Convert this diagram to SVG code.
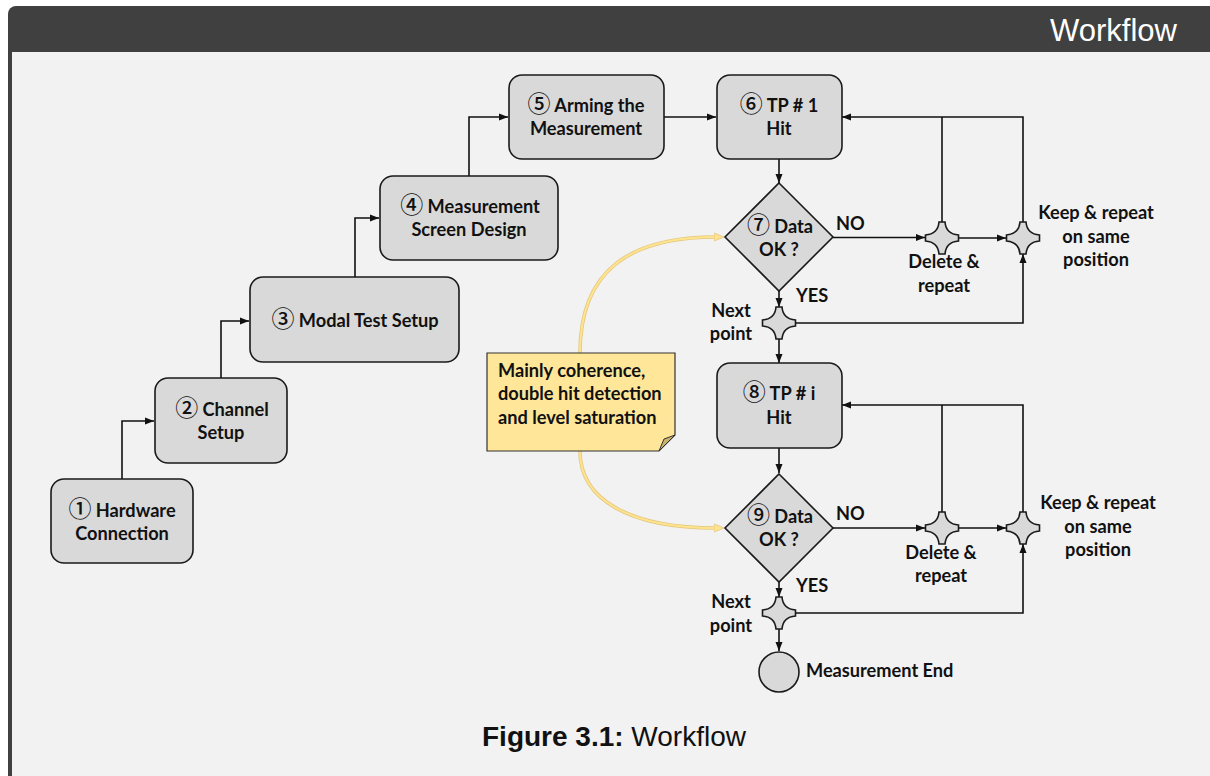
<svg xmlns="http://www.w3.org/2000/svg" width="1210" height="776" viewBox="0 0 1210 776">
  <defs>
    <marker id="arrow" markerUnits="userSpaceOnUse" markerWidth="10" markerHeight="8" refX="9" refY="4" orient="auto">
      <path d="M0,0.5 L9,4 L0,7.5 Z" fill="#111"/>
    </marker>
    <marker id="arrowNote" markerUnits="userSpaceOnUse" markerWidth="12" markerHeight="10" refX="10" refY="5" orient="auto">
      <path d="M0,1 L10,5 L0,9 Z" fill="#ffe38f" stroke="#e2c77c" stroke-width="0.8"/>
    </marker>
    <!-- four-point junction star, centred on 0,0 -->
    <path id="star" d="M-3,-16 L3,-16 Q4,-4 16.5,-3 L16.5,3 Q4,4 3,16 L-3,16 Q-4,4 -16.5,3 L-16.5,-3 Q-4,-4 -3,-16 Z"/>
    <style>
      .box { fill: #d9d9d9; stroke: #1a1a1a; stroke-width: 1.6; }
      .lbl { font-family: Lato, "Liberation Sans", sans-serif; font-weight: bold; font-size: 18.2px; fill: #111; }
      .num { font-family: "Noto Sans CJK SC", "DejaVu Sans", sans-serif; font-weight: 500; font-size: 23px; }
      .mid { text-anchor: middle; }
      .wire { fill: none; stroke: #111; stroke-width: 1.6; }
      .a { marker-end: url(#arrow); }
      .link-edge { fill: none; stroke: #e2c77c; stroke-width: 3.6; }
      .link-core { fill: none; stroke: #ffe38f; stroke-width: 2; }
      .link-tip { fill: none; stroke: none; marker-end: url(#arrowNote); }
    </style>
  </defs>

  <!-- page frame -->
  <rect x="0" y="0" width="1210" height="776" fill="#ffffff"/>
  <rect x="8" y="6" width="1220" height="790" rx="8" fill="#404040"/>
  <rect x="12" y="52" width="1210" height="730" fill="#f2f2f2"/>
  <text x="1177" y="41" text-anchor="end" font-family="'Liberation Sans', sans-serif" font-size="31" fill="#ffffff">Workflow</text>

  <!-- connectors -->
  <g id="connectors">
    <path class="wire a" d="M122,479 V421 H154"/>
    <path class="wire a" d="M221,378 V321 H249"/>
    <path class="wire a" d="M355,277 V218 H379"/>
    <path class="wire a" d="M469,176 V117 H508"/>
    <path class="wire a" d="M664,117 H716"/>
    <path class="wire a" d="M779,159 V183"/>
    <path class="wire a" d="M833,237.5 H925"/>
    <path class="wire a" d="M959,238 H1006"/>
    <path class="wire a" d="M779,291 V307"/>
    <path class="wire a" d="M796,323 H1023 V254"/>
    <path class="wire" d="M942,222 V117"/>
    <path class="wire a" d="M1023,222 V117 H842"/>
    <path class="wire a" d="M779,339 V363"/>
    <path class="wire a" d="M779,448 V473"/>
    <path class="wire a" d="M833,528 H925"/>
    <path class="wire a" d="M959,528 H1006"/>
    <path class="wire a" d="M779,582 V597"/>
    <path class="wire a" d="M796,613 H1023 V544"/>
    <path class="wire" d="M942,512 V405"/>
    <path class="wire a" d="M1023,512 V405 H842"/>
    <path class="wire a" d="M779,629 V651"/>
    <!-- note callouts -->
    <path class="link-edge" d="M580,353 C580,270 630,237 716,237"/>
    <path class="link-core" d="M580,353 C580,270 630,237 716,237"/>
    <path class="link-tip" d="M716,237 L724,237"/>
    <path class="link-edge" d="M580,451 C580,500 630,528 716,528"/>
    <path class="link-core" d="M580,451 C580,500 630,528 716,528"/>
    <path class="link-tip" d="M716,528 L724,528"/>
  </g>

  <!-- process steps -->
  <g id="n1">
    <rect class="box" x="51" y="479" width="142" height="84" rx="13"/>
    <text class="lbl mid" x="122" y="517"><tspan class="num">①</tspan> Hardware</text>
    <text class="lbl mid" x="122" y="540">Connection</text>
  </g>
  <g id="n2">
    <rect class="box" x="155" y="378" width="132" height="85" rx="13"/>
    <text class="lbl mid" x="222" y="416"><tspan class="num">②</tspan> Channel</text>
    <text class="lbl mid" x="221" y="439">Setup</text>
  </g>
  <g id="n3">
    <rect class="box" x="250" y="277" width="209" height="85" rx="13"/>
    <text class="lbl mid" x="355" y="327"><tspan class="num">③</tspan> Modal Test Setup</text>
  </g>
  <g id="n4">
    <rect class="box" x="380" y="176" width="178" height="84" rx="13"/>
    <text class="lbl mid" x="470" y="213"><tspan class="num">④</tspan> Measurement</text>
    <text class="lbl mid" x="469" y="236">Screen Design</text>
  </g>
  <g id="n5">
    <rect class="box" x="509" y="75" width="155" height="84" rx="13"/>
    <text class="lbl mid" x="586" y="112"><tspan class="num">⑤</tspan> Arming the</text>
    <text class="lbl mid" x="586" y="135">Measurement</text>
  </g>
  <g id="n6">
    <rect class="box" x="717" y="75" width="125" height="84" rx="13"/>
    <text class="lbl mid" x="779" y="112"><tspan class="num">⑥</tspan> TP # 1</text>
    <text class="lbl mid" x="779" y="135">Hit</text>
  </g>
  <g id="n7">
    <path class="box" d="M779,183 L833,237 L779,291 L725,237 Z"/>
    <text class="lbl mid" x="780" y="233"><tspan class="num">⑦</tspan> Data</text>
    <text class="lbl mid" x="779" y="256">OK ?</text>
    <text class="lbl" x="836" y="230">NO</text>
    <text class="lbl" x="796" y="302">YES</text>
  </g>
  <g id="j7-next">
    <use href="#star" x="779" y="323" class="box"/>
    <text class="lbl mid" x="731" y="317">Next</text>
    <text class="lbl mid" x="731" y="340">point</text>
  </g>
  <g id="j7-delete">
    <use href="#star" x="942" y="238" class="box"/>
    <text class="lbl mid" x="944" y="268">Delete &amp;</text>
    <text class="lbl mid" x="944" y="292">repeat</text>
  </g>
  <g id="j7-keep">
    <use href="#star" x="1023" y="238" class="box"/>
    <text class="lbl mid" x="1096" y="219">Keep &amp; repeat</text>
    <text class="lbl mid" x="1096" y="243">on same</text>
    <text class="lbl mid" x="1096" y="266">position</text>
  </g>
  <g id="n8">
    <rect class="box" x="717" y="363" width="125" height="85" rx="13"/>
    <text class="lbl mid" x="779" y="400"><tspan class="num">⑧</tspan> TP # i</text>
    <text class="lbl mid" x="779" y="424">Hit</text>
  </g>
  <g id="n9">
    <path class="box" d="M779,474 L833,528 L779,582 L725,528 Z"/>
    <text class="lbl mid" x="780" y="523"><tspan class="num">⑨</tspan> Data</text>
    <text class="lbl mid" x="779" y="546">OK ?</text>
    <text class="lbl" x="836" y="520">NO</text>
    <text class="lbl" x="796" y="592">YES</text>
  </g>
  <g id="j9-next">
    <use href="#star" x="779" y="613" class="box"/>
    <text class="lbl mid" x="731" y="608">Next</text>
    <text class="lbl mid" x="731" y="632">point</text>
  </g>
  <g id="j9-delete">
    <use href="#star" x="942" y="528" class="box"/>
    <text class="lbl mid" x="941" y="559">Delete &amp;</text>
    <text class="lbl mid" x="941" y="582">repeat</text>
  </g>
  <g id="j9-keep">
    <use href="#star" x="1023" y="528" class="box"/>
    <text class="lbl mid" x="1098" y="509">Keep &amp; repeat</text>
    <text class="lbl mid" x="1098" y="533">on same</text>
    <text class="lbl mid" x="1098" y="556">position</text>
  </g>
  <g id="end">
    <circle class="box" cx="779" cy="672" r="20"/>
    <text class="lbl" x="806" y="677">Measurement End</text>
  </g>

  <!-- sticky note -->
  <g id="note">
    <path d="M487,353 H675 V435 L659,451 H487 Z" fill="#ffe699" stroke="#333" stroke-width="1.2"/>
    <path d="M659,451 L664,439 L675,435 Z" fill="#c9b26c" stroke="#333" stroke-width="1"/>
    <text class="lbl" x="498" y="377">Mainly coherence,</text>
    <text class="lbl" x="498" y="400">double hit detection</text>
    <text class="lbl" x="498" y="424">and level saturation</text>
  </g>

  <!-- caption -->
  <text x="482" y="746" font-family="'Liberation Sans', sans-serif" font-size="28" fill="#111"><tspan font-weight="bold">Figure 3.1:</tspan> Workflow</text>
</svg>
